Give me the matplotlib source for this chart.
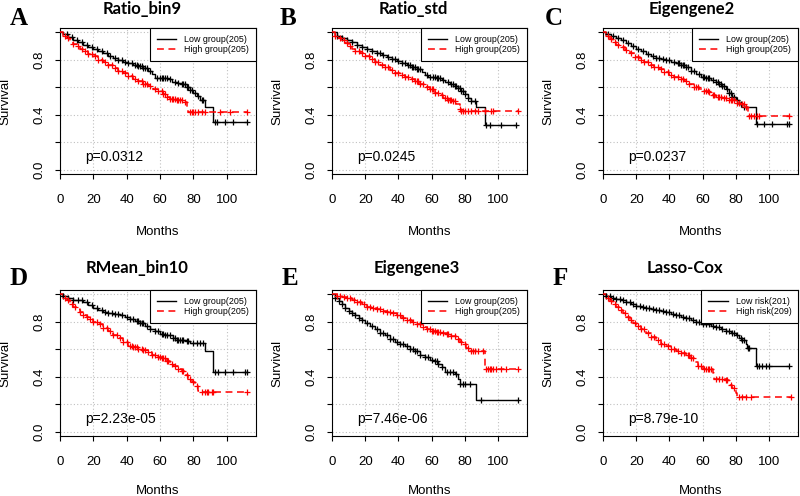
import numpy as np
import matplotlib
matplotlib.use("Agg")
import matplotlib.pyplot as plt

plt.rcParams["font.family"] = ["Liberation Sans", "DejaVu Sans"]

letters = ["A", "B", "C", "D", "E", "F"]
titles = ["Ratio_bin9", "Ratio_std", "Eigengene2", "RMean_bin10", "Eigengene3", "Lasso-Cox"]
pvals = ["p=0.0312", "p=0.0245", "p=0.0237", "p=2.23e-05", "p=7.46e-06", "p=8.79e-10"]
low_labels = ["Low group(205)"] * 5 + ["Low risk(201)"]
high_labels = ["High group(205)"] * 5 + ["High risk(209)"]

# Panel A  (time in months, survival level reached at that time)
a_low_t = [0, 2, 5, 8, 11, 14, 17, 20, 23, 26, 29, 32, 35, 38, 41, 44, 47, 50, 53, 55, 57, 62, 65, 67, 70, 73, 76, 78, 80, 82, 84, 87, 92]
a_low_s = [1.0, 0.985, 0.965, 0.945, 0.93, 0.91, 0.895, 0.875, 0.86, 0.845, 0.83, 0.815, 0.80, 0.785, 0.775, 0.765, 0.755, 0.74, 0.72, 0.695, 0.67, 0.665, 0.66, 0.64, 0.63, 0.62, 0.60, 0.58, 0.555, 0.535, 0.51, 0.46, 0.345]
a_low_cens = [4, 7, 10, 13, 16, 19, 22, 25, 28, 30, 33, 35, 37, 39, 41, 43, 45, 46, 47, 48, 49, 50, 51, 52, 54, 58, 60, 61, 62, 63, 64, 66, 69, 71, 73, 74, 75, 76, 77, 78, 79, 81, 83, 85, 86, 93, 94, 99, 104, 112]
a_high_t = [0, 2, 4, 6, 8, 10, 12, 14, 17, 20, 23, 26, 29, 32, 35, 38, 41, 44, 47, 50, 53, 56, 59, 62, 64, 66, 70, 74, 76, 77]
a_high_s = [1.0, 0.975, 0.955, 0.935, 0.915, 0.90, 0.88, 0.86, 0.84, 0.825, 0.80, 0.78, 0.76, 0.74, 0.72, 0.70, 0.68, 0.66, 0.645, 0.625, 0.61, 0.59, 0.57, 0.55, 0.53, 0.515, 0.505, 0.49, 0.45, 0.42]
a_high_cens = [3, 5, 8, 11, 13, 15, 17, 19, 21, 23, 25, 27, 29, 31, 33, 35, 37, 39, 41, 43, 45, 47, 49, 50, 51, 52, 54, 57, 59, 61, 62, 63, 64, 66, 67, 68, 69, 70, 71, 72, 73, 75, 78, 79, 80, 81, 83, 85, 87, 96, 102, 112]

# Panel B
b_low_t = [0, 3, 6, 9, 12, 15, 18, 21, 24, 27, 30, 33, 36, 39, 42, 45, 48, 51, 54, 56, 58, 63, 66, 68, 71, 74, 76, 78, 80, 82, 84, 87, 92]
b_low_s = [1.0, 0.975, 0.955, 0.94, 0.925, 0.91, 0.895, 0.88, 0.865, 0.85, 0.835, 0.82, 0.805, 0.79, 0.775, 0.76, 0.745, 0.73, 0.71, 0.69, 0.675, 0.67, 0.655, 0.64, 0.625, 0.61, 0.595, 0.575, 0.55, 0.525, 0.50, 0.455, 0.325]
b_low_cens = [3, 6, 9, 12, 15, 18, 21, 24, 27, 29, 31, 34, 36, 38, 40, 42, 44, 46, 47, 48, 49, 50, 51, 52, 53, 57, 59, 61, 62, 63, 64, 65, 67, 70, 72, 73, 74, 75, 76, 77, 78, 79, 80, 82, 84, 86, 93, 95, 102, 111]
b_high_t = [0, 2, 4, 6, 8, 10, 12, 14, 17, 20, 23, 26, 29, 32, 35, 38, 41, 44, 47, 50, 53, 56, 59, 62, 65, 67, 70, 73, 75, 77, 78]
b_high_s = [1.0, 0.975, 0.955, 0.94, 0.92, 0.90, 0.875, 0.86, 0.845, 0.825, 0.805, 0.785, 0.765, 0.745, 0.725, 0.705, 0.69, 0.675, 0.66, 0.645, 0.625, 0.605, 0.585, 0.56, 0.545, 0.525, 0.51, 0.50, 0.475, 0.445, 0.425]
b_high_cens = [2, 5, 7, 9, 11, 14, 16, 18, 20, 22, 24, 26, 28, 30, 32, 34, 36, 38, 40, 42, 44, 46, 48, 50, 51, 52, 53, 55, 57, 59, 60, 61, 62, 64, 66, 68, 69, 70, 71, 72, 73, 74, 77, 78, 79, 80, 82, 84, 86, 88, 92, 96, 97, 112]

# Panel C
c_low_t = [0, 2, 5, 8, 11, 14, 17, 20, 23, 26, 29, 32, 35, 38, 41, 44, 47, 50, 53, 56, 59, 62, 65, 68, 70, 72, 74, 76, 78, 80, 82, 85, 92]
c_low_s = [1.0, 0.985, 0.97, 0.955, 0.94, 0.92, 0.90, 0.88, 0.86, 0.84, 0.825, 0.815, 0.805, 0.795, 0.785, 0.775, 0.765, 0.745, 0.72, 0.695, 0.675, 0.665, 0.655, 0.64, 0.625, 0.61, 0.585, 0.56, 0.53, 0.505, 0.48, 0.46, 0.33]
c_low_cens = [3, 6, 9, 12, 15, 18, 21, 24, 27, 30, 32, 34, 36, 38, 40, 43, 45, 46, 47, 48, 49, 50, 51, 53, 55, 58, 60, 61, 62, 63, 64, 66, 68, 69, 70, 71, 72, 73, 75, 76, 77, 78, 79, 81, 83, 85, 93, 97, 102, 111, 112]
c_high_t = [0, 2, 4, 6, 8, 10, 13, 16, 19, 22, 25, 28, 31, 34, 37, 40, 43, 46, 49, 52, 55, 58, 61, 64, 66, 68, 72, 76, 80, 84, 86, 87.5]
c_high_s = [1.0, 0.97, 0.95, 0.925, 0.905, 0.89, 0.87, 0.845, 0.82, 0.80, 0.78, 0.765, 0.75, 0.73, 0.71, 0.69, 0.675, 0.66, 0.645, 0.625, 0.605, 0.59, 0.575, 0.565, 0.545, 0.53, 0.52, 0.505, 0.485, 0.475, 0.46, 0.39]
c_high_cens = [3, 5, 7, 9, 12, 14, 17, 19, 21, 23, 25, 27, 29, 31, 33, 35, 37, 39, 41, 43, 45, 47, 48, 50, 52, 55, 56, 57, 61, 62, 63, 64, 66, 67, 69, 70, 71, 73, 74, 76, 77, 78, 79, 81, 82, 84, 85, 86, 88, 89, 91, 93, 94, 112]

# Panel D
d_low_t = [0, 2, 5, 8, 11, 14, 17, 20, 23, 26, 29, 32, 36, 39, 42, 45, 48, 51, 54, 57, 60, 63, 68, 70, 76, 78, 87, 92]
d_low_s = [1.0, 0.985, 0.97, 0.96, 0.955, 0.94, 0.92, 0.90, 0.885, 0.87, 0.86, 0.855, 0.85, 0.835, 0.82, 0.805, 0.79, 0.77, 0.75, 0.73, 0.71, 0.70, 0.685, 0.67, 0.66, 0.645, 0.585, 0.435]
d_low_cens = [2, 5, 8, 11, 13, 16, 19, 22, 25, 27, 29, 31, 33, 35, 37, 40, 42, 44, 46, 47, 48, 49, 50, 52, 54, 57, 59, 61, 62, 63, 64, 66, 68, 69, 70, 71, 72, 73, 74, 76, 77, 80, 82, 84, 86, 93, 95, 99, 104, 111, 112]
d_high_t = [0, 2, 4, 6, 8, 10, 12, 14, 16, 18, 20, 23, 26, 29, 32, 35, 38, 41, 44, 47, 50, 53, 55, 58, 61, 64, 66, 68, 71, 73, 75, 77, 79, 81, 83, 84]
d_high_s = [1.0, 0.975, 0.955, 0.93, 0.91, 0.89, 0.87, 0.85, 0.835, 0.82, 0.80, 0.78, 0.755, 0.73, 0.705, 0.68, 0.65, 0.625, 0.615, 0.605, 0.595, 0.58, 0.56, 0.545, 0.535, 0.515, 0.49, 0.475, 0.46, 0.44, 0.415, 0.385, 0.36, 0.335, 0.30, 0.29]
d_high_cens = [3, 5, 7, 9, 12, 14, 16, 18, 20, 22, 24, 26, 28, 30, 32, 34, 36, 38, 40, 42, 43, 44, 45, 46, 47, 49, 50, 51, 53, 55, 57, 59, 60, 61, 62, 63, 64, 65, 67, 69, 71, 73, 74, 76, 78, 80, 82, 85, 87, 88, 89, 91, 92, 112]

# Panel E
e_low_t = [0, 2, 4, 6, 8, 10, 12, 14, 16, 18, 20, 23, 26, 29, 32, 35, 38, 41, 44, 47, 50, 53, 56, 59, 62, 64, 66, 68, 74, 76, 77, 87]
e_low_s = [1.0, 0.97, 0.95, 0.925, 0.90, 0.88, 0.86, 0.845, 0.83, 0.81, 0.79, 0.77, 0.745, 0.72, 0.70, 0.675, 0.655, 0.635, 0.62, 0.605, 0.59, 0.56, 0.545, 0.525, 0.515, 0.495, 0.47, 0.435, 0.42, 0.385, 0.35, 0.23]
e_low_cens = [2, 4, 6, 8, 10, 12, 14, 16, 18, 21, 24, 27, 29, 31, 33, 35, 37, 39, 41, 43, 45, 47, 49, 50, 51, 53, 56, 58, 60, 62, 63, 64, 66, 69, 71, 73, 75, 77, 79, 80, 83, 90, 112]
e_high_t = [0, 3, 6, 9, 12, 15, 18, 21, 24, 27, 30, 33, 36, 39, 42, 45, 48, 51, 54, 57, 60, 63, 66, 69, 72, 75, 77, 79, 81, 83, 92]
e_high_s = [1.0, 0.99, 0.98, 0.97, 0.955, 0.94, 0.925, 0.91, 0.90, 0.89, 0.88, 0.87, 0.86, 0.85, 0.83, 0.815, 0.80, 0.785, 0.765, 0.75, 0.735, 0.725, 0.715, 0.71, 0.695, 0.675, 0.655, 0.635, 0.61, 0.585, 0.46]
e_high_cens = [3, 5, 7, 9, 11, 13, 15, 17, 19, 21, 23, 25, 27, 29, 31, 33, 35, 37, 39, 41, 43, 45, 47, 49, 51, 53, 55, 57, 59, 60, 61, 62, 63, 64, 65, 67, 69, 70, 72, 74, 76, 78, 80, 82, 84, 85, 86, 88, 91, 93, 94, 95, 96, 97, 99, 102, 105, 112]

# Panel F
f_low_t = [0, 2, 5, 8, 11, 14, 17, 20, 23, 26, 29, 32, 35, 38, 41, 44, 47, 50, 53, 56, 59, 62, 65, 68, 71, 74, 77, 80, 82, 84, 86, 87, 92]
f_low_s = [1.0, 0.99, 0.975, 0.965, 0.955, 0.94, 0.925, 0.915, 0.905, 0.90, 0.895, 0.885, 0.88, 0.87, 0.855, 0.845, 0.835, 0.825, 0.81, 0.795, 0.785, 0.78, 0.77, 0.76, 0.75, 0.735, 0.72, 0.70, 0.685, 0.665, 0.64, 0.61, 0.48]
f_low_cens = [2, 4, 6, 8, 10, 12, 14, 16, 18, 20, 22, 24, 26, 28, 30, 32, 34, 36, 38, 40, 42, 44, 46, 48, 50, 52, 54, 56, 58, 60, 62, 64, 66, 68, 70, 72, 74, 76, 78, 79, 81, 83, 84, 85, 87.5, 88, 93, 94, 96, 98, 100, 112]
f_high_t = [0, 2, 4, 6, 8, 10, 12, 14, 16, 18, 20, 23, 26, 29, 32, 35, 38, 41, 44, 47, 50, 53, 55, 57, 60, 63, 66, 67, 74, 76, 78, 80, 81]
f_high_s = [1.0, 0.975, 0.95, 0.925, 0.905, 0.885, 0.86, 0.835, 0.815, 0.79, 0.77, 0.745, 0.715, 0.69, 0.665, 0.64, 0.62, 0.605, 0.59, 0.575, 0.56, 0.535, 0.51, 0.48, 0.46, 0.455, 0.43, 0.385, 0.375, 0.34, 0.315, 0.28, 0.25]
f_high_cens = [3, 5, 7, 9, 11, 13, 15, 17, 19, 21, 23, 25, 27, 29, 31, 33, 35, 37, 39, 41, 43, 45, 47, 49, 51, 52, 53, 54, 57, 59, 61, 62, 63, 64, 65, 68, 70, 72, 74, 75, 77, 79, 82, 84, 86, 89, 113]

panels = [
    (a_low_t, a_low_s, a_low_cens, a_high_t, a_high_s, a_high_cens),
    (b_low_t, b_low_s, b_low_cens, b_high_t, b_high_s, b_high_cens),
    (c_low_t, c_low_s, c_low_cens, c_high_t, c_high_s, c_high_cens),
    (d_low_t, d_low_s, d_low_cens, d_high_t, d_high_s, d_high_cens),
    (e_low_t, e_low_s, e_low_cens, e_high_t, e_high_s, e_high_cens),
    (f_low_t, f_low_s, f_low_cens, f_high_t, f_high_s, f_high_cens),
]

W, H = 800, 496
fig = plt.figure(figsize=(8, 4.96), dpi=100)

# axes boxes in pixels: left, top, width, height
boxes = [(60, 28, 196, 146), (332, 28, 195, 146), (603, 28, 195, 146),
         (60, 290, 196, 146), (332, 290, 195, 146), (603, 290, 195, 146)]
title_pos = [(142, 14), (413, 14), (692, 14), (137, 273), (417, 273), (685, 273)]
letter_pos = [(10, 25), (280, 25), (545, 25), (10, 285), (282, 285), (553, 285)]
months_y = [-0.42, -0.42, -0.42, -0.395, -0.395, -0.395]


def draw_km(ax, t, s, cens, color, ls):
    t = np.asarray(t, float)
    s = np.asarray(s, float)
    end = max(cens)
    xs = np.append(t, end)
    ys = np.append(s, s[-1])
    if ls == "-":
        ax.step(xs, ys, where="post", color=color, lw=1.0, zorder=3)
    else:
        ax.step(xs, ys, where="post", color=color, lw=1.1, dashes=(4.5, 3), zorder=3)
    idx = np.searchsorted(t, cens, side="right") - 1
    ax.plot(cens, s[idx], ls="none", marker="+", ms=4.5, mew=0.9, color=color, zorder=4)


for i, (lt, ls_, lc, ht, hs, hc) in enumerate(panels):
    l, tp, w, h = boxes[i]
    ax = fig.add_axes([l / W, 1 - (tp + h) / H, w / W, h / H])
    ax.set_xlim(0, 117.5)
    ax.set_ylim(-0.03, 1.03)
    ax.set_xticks(range(0, 101, 20))
    ax.set_yticks([0, 0.2, 0.4, 0.6, 0.8, 1.0])
    ax.set_yticklabels(["0.0", "", "0.4", "", "0.8", ""], rotation=90, va="center")
    ax.tick_params(direction="out", length=3.6, width=0.8, labelsize=9.5, color="black")
    ax.tick_params(axis="x", pad=11)
    ax.tick_params(axis="y", pad=7)
    ax.grid(True, color="#c0c0c0", linestyle=(0, (1, 2)), linewidth=0.8, zorder=0)
    ax.set_axisbelow(True)
    for sp in ax.spines.values():
        sp.set_linewidth(0.8)

    draw_km(ax, lt, ls_, lc, "black", "-")
    draw_km(ax, ht, hs, hc, "red", "--")

    h1, = ax.plot([], [], color="black", lw=1.0)
    h2, = ax.plot([], [], color="red", lw=1.1, dashes=(4.5, 3))
    leg = ax.legend([h1, h2], [low_labels[i], high_labels[i]], loc="upper right",
                    borderaxespad=0, fancybox=False, framealpha=1, edgecolor="black",
                    fontsize=6.4, handlelength=2.2, handletextpad=0.9,
                    borderpad=0.75, labelspacing=0.2)
    leg.get_frame().set_linewidth(0.8)

    ax.text(15, 0.065, pvals[i], ha="left", va="baseline", fontsize=10)
    ax.text(-0.28, 0.5, "Survival", transform=ax.transAxes, rotation=90,
            ha="center", va="center", fontsize=9.5)
    ax.text(0.5, months_y[i], "Months", transform=ax.transAxes, ha="center",
            va="baseline", fontsize=9.5)

    tx, ty = title_pos[i]
    fig.text(tx / W, 1 - ty / H, titles[i], ha="center", va="baseline",
             fontsize=12, fontweight="bold", family=["Lato", "DejaVu Sans"])
    lx, ly = letter_pos[i]
    fig.text(lx / W, 1 - ly / H, letters[i], ha="left", va="baseline",
             fontsize=18, fontweight="bold", family=["Liberation Serif", "DejaVu Serif"])

fig.savefig("out.png", dpi=100)
